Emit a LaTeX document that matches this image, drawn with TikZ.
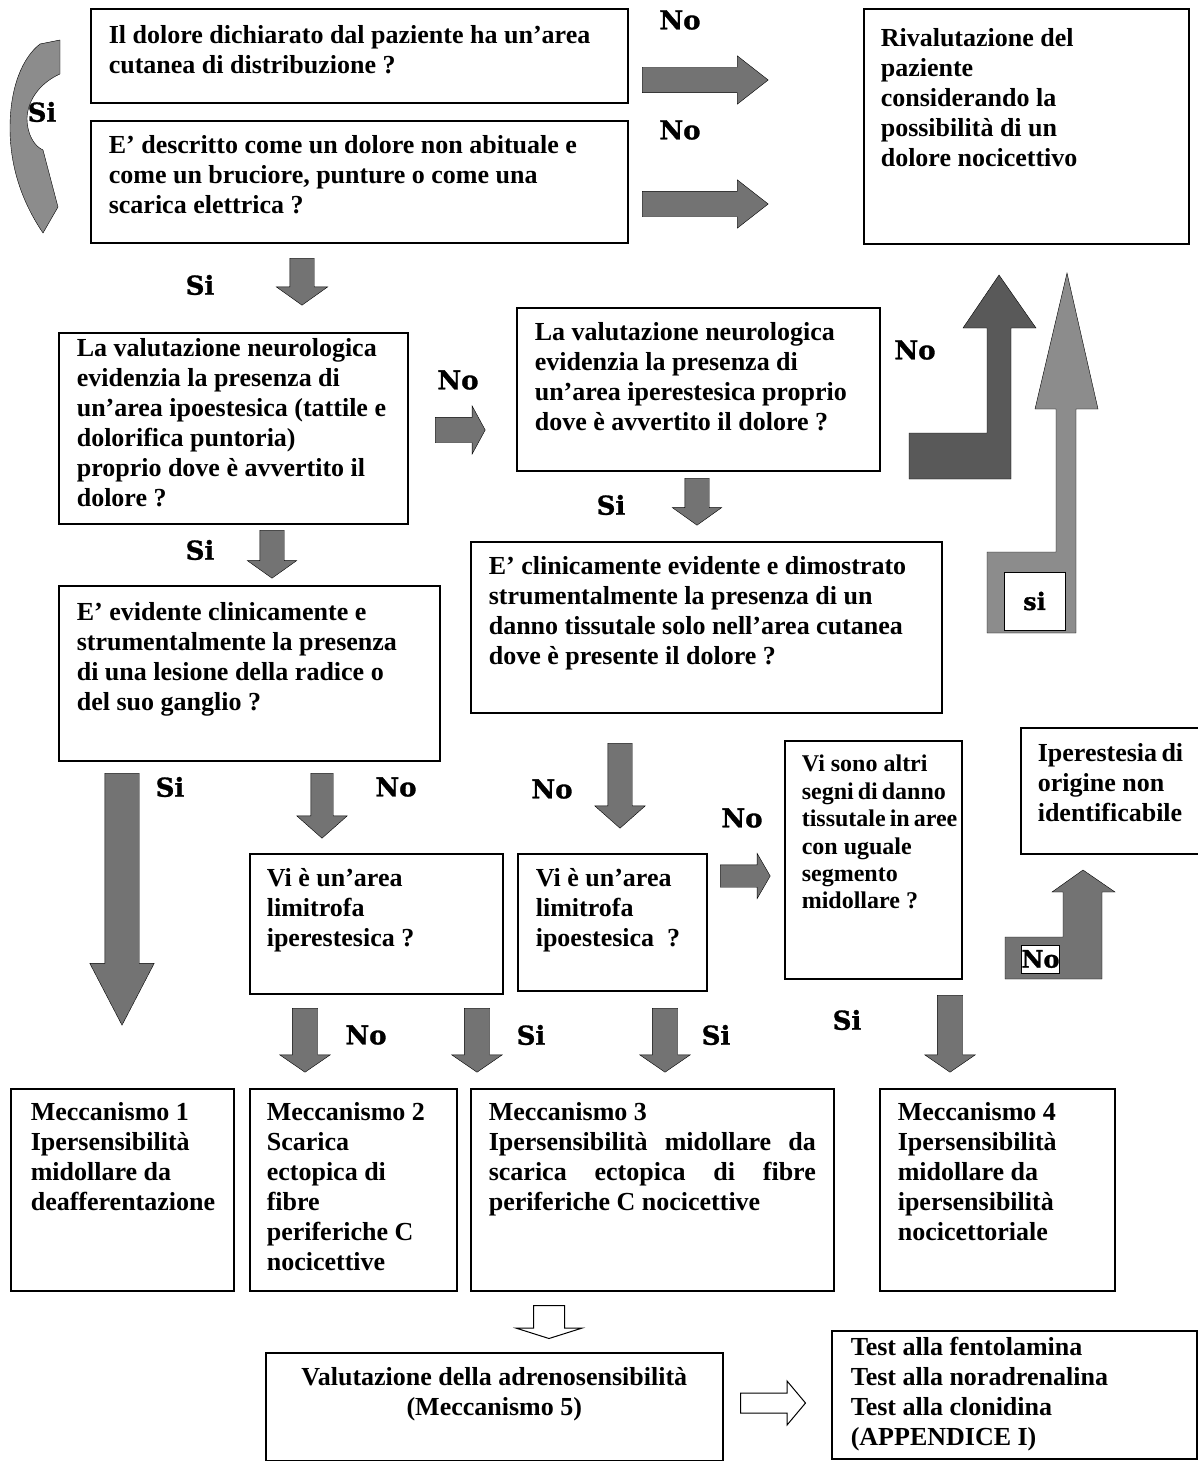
\documentclass[tikz,border=0pt]{standalone}
\usepackage{fontspec}
\setmainfont{Liberation Serif}
\newfontfamily\labelfont{DejaVu Serif Bold}[FakeBold=1.2]
\usetikzlibrary{shapes.arrows}

% box text: top aligned, fixed size
\newcommand{\qtext}[4][12pt]{\parbox[c][#3][t]{#2}{\vspace*{#1}\raggedright
  \hyphenpenalty=10000 \hfuzz=20pt \strut #4}}

\begin{document}
\begin{tikzpicture}[
  x=1pt, y=-1pt,
  quest/.style={draw, line width=1.6pt, anchor=north west, inner xsep=18pt,
    inner ysep=0pt, font=\bfseries\fontsize{26}{30}\selectfont},
  answer/.style={font=\labelfont\fontsize{26}{30}\selectfont, inner sep=1pt},
  smallanswer/.style={font=\labelfont\fontsize{24}{26}\selectfont, fill=white,
    draw, line width=0.5pt, inner sep=0pt},
  blk/.style={single arrow, draw=black, line width=0.4pt, fill=black!55,
    inner sep=0pt, anchor=tail},
  blkdown/.style={blk, shape border rotate=270},
  hollow/.style={single arrow, draw=black, line width=1pt, fill=white,
    inner sep=0pt, anchor=tail},
  shapefill/.style={draw=black, line width=0.4pt, fill=#1}
]
\useasboundingbox (0,0) rectangle (1198,1461);

% first two questions
\node[quest] (area) at (90,8) {\qtext[14pt]{501pt}{94pt}{Il dolore dichiarato dal paziente ha un'area\\cutanea di distribuzione ?}};
\node[quest] (bruciore) at (90,120) {\qtext{501pt}{122pt}{E' descritto come un dolore non abituale e\\come un bruciore, punture o come una\\scarica elettrica ?}};
\node[quest, inner xsep=17pt] (rival) at (863,8) {\qtext[17pt]{291pt}{235pt}{Rivalutazione del\\paziente\\considerando la\\possibilità di un\\dolore nocicettivo}};

% neurological evaluation
\node[quest] (ipoest) at (58,332) {\qtext[3pt]{313pt}{191pt}{La valutazione neurologica\\evidenzia la presenza di\\un'area~ipoestesica~(tattile~e\\dolorifica puntoria)\\proprio dove è avvertito il\\dolore ?}};
\node[quest] (iperest) at (516,307) {\qtext{327pt}{163pt}{La valutazione neurologica\\evidenzia la presenza di\\un'area iperestesica proprio\\dove è avvertito il dolore ?}};
\node[quest] (danno) at (470,541) {\qtext{435pt}{171pt}{E' clinicamente evidente e dimostrato\\strumentalmente la presenza di un\\danno tissutale solo nell'area cutanea\\dove è presente il dolore ?}};
\node[quest] (radice) at (58,585) {\qtext[14pt]{345pt}{175pt}{E' evidente clinicamente e\\strumentalmente la presenza\\di una lesione della radice o\\del suo ganglio ?}};

% neighbouring areas
\node[quest, inner xsep=17pt] (limiper) at (249,853) {\qtext{219pt}{140pt}{Vi è un'area\\limitrofa\\iperestesica ?}};
\node[quest] (limipo) at (517,853) {\qtext{153pt}{137pt}{Vi è un'area\\limitrofa\\ipoestesica~~?}};
\node[quest, inner xsep=17pt, font=\bfseries\fontsize{24}{27.4}\selectfont] (segni) at (784,740) {\qtext{143pt}{238pt}{Vi~sono~altri\\segni~di~danno\\tissutale~in~aree\\con uguale\\segmento\\midollare ?}};
\node[quest, inner xsep=17pt] (ignota) at (1020,727) {\qtext[13pt]{144pt}{126pt}{Iperestesia~di\\origine non\\identificabile}};

% mechanisms
\node[quest, inner xsep=20pt] (mecc1) at (10,1088) {\qtext[11pt]{183pt}{202pt}{Meccanismo 1\\Ipersensibilità\\midollare da\\deafferentazione}};
\node[quest, inner xsep=17pt] (mecc2) at (249,1088) {\qtext[11pt]{173pt}{202pt}{Meccanismo 2\\Scarica\\ectopica di\\fibre\\periferiche C\\nocicettive}};
\node[quest] (mecc3) at (470,1088) {\qtext[11pt]{327pt}{202pt}{\rightskip=0pt Meccanismo 3\\Ipersensibilità midollare da\linebreak scarica ectopica di fibre\linebreak periferiche C nocicettive}};
\node[quest] (mecc4) at (879,1088) {\qtext[11pt]{199pt}{202pt}{Meccanismo 4\\Ipersensibilità\\midollare da\\ipersensibilità\\nocicettoriale}};

% adrenosensitivity
\node[quest] (adreno) at (265,1352) {\qtext{421pt}{108pt}{\centering Valutazione della adrenosensibilità\\(Meccanismo 5)}};
\node[quest, inner xsep=19pt] (test) at (831,1330) {\qtext[4pt]{327pt}{128pt}{Test alla fentolamina\\Test alla noradrenalina\\Test alla clonidina\\(APPENDICE I)}};

% block arrows
\node[blk, minimum height=126pt, inner ysep=12.5pt, single arrow head extend=11.5pt, single arrow tip angle=76] (noarea) at (642,80) {};
\node[blk, minimum height=126pt, inner ysep=12.5pt, single arrow head extend=11.5pt, single arrow tip angle=76] (nobruc) at (642,204) {};
\node[blkdown, minimum height=47pt, inner xsep=12pt, single arrow head extend=13.5pt, single arrow tip angle=109] (sibruc) at (302,258) {};
\node[blk, minimum height=50pt, inner ysep=12.5pt, single arrow head extend=11.5pt, single arrow tip angle=123] (noipo) at (435,430) {};
\node[blkdown, minimum height=48pt, inner xsep=12pt, single arrow head extend=12.5pt, single arrow tip angle=109] (siipo) at (272,530) {};
\node[blkdown, minimum height=47pt, inner xsep=12pt, single arrow head extend=12.5pt, single arrow tip angle=109] (siiper) at (697,478) {};
\node[blkdown, minimum height=252pt, inner xsep=17pt, single arrow head extend=15pt, single arrow tip angle=55] (siradice) at (122,773) {};
\node[blkdown, minimum height=65pt, inner xsep=11pt, single arrow head extend=14pt, single arrow tip angle=97] (noradice) at (322,773) {};
\node[blkdown, minimum height=85pt, inner xsep=12pt, single arrow head extend=13pt, single arrow tip angle=97] (nodanno) at (620,743) {};
\node[blk, minimum height=50pt, inner ysep=11pt, single arrow head extend=11.5pt, single arrow tip angle=120] (nolimipo) at (720,876) {};
\node[blkdown, minimum height=64pt, inner xsep=12.5pt, single arrow head extend=12.5pt, single arrow tip angle=111] (nolimiper) at (305,1008) {};
\node[blkdown, minimum height=64pt, inner xsep=12.5pt, single arrow head extend=12.5pt, single arrow tip angle=111] (silimiper) at (477,1008) {};
\node[blkdown, minimum height=64pt, inner xsep=12.5pt, single arrow head extend=12.5pt, single arrow tip angle=111] (silimipo) at (665,1008) {};
\node[blkdown, minimum height=77pt, inner xsep=12.5pt, single arrow head extend=12.5pt, single arrow tip angle=111] (sisegni) at (950,995) {};
\node[hollow, shape border rotate=270, minimum height=33pt, inner xsep=15pt, single arrow head extend=17.5pt, single arrow tip angle=145] (toadreno) at (549,1305) {};
\node[hollow, minimum height=65pt, inner ysep=9.5pt, single arrow head extend=12pt, single arrow tip angle=100] (totest) at (740,1403) {};

% curved Si arrow
\filldraw[shapefill=black!45] (40,44) -- (60,40) -- (60,74) .. controls (42,82) and (28,98) .. (27,118)
  .. controls (27,134) and (34,146) .. (43,150) -- (58,207) -- (43,233)
  .. controls (24,205) and (10,170) .. (10,128) .. controls (10,88) and (22,58) .. (40,44) -- cycle;
% bent arrows on the right
\filldraw[shapefill=black!65] (909,433) -- (987,433) -- (987,328) -- (963,328) -- (999,275)
  -- (1036,328) -- (1011,328) -- (1011,479) -- (909,479) -- cycle;
\filldraw[shapefill=black!45] (1067,273) -- (1098,409) -- (1076,409) -- (1076,633) -- (987,633)
  -- (987,552) -- (1056,552) -- (1056,409) -- (1035,409) -- cycle;
\filldraw[shapefill=black!55] (1083,870) -- (1115,892) -- (1102,892) -- (1102,979) -- (1005,979)
  -- (1005,937) -- (1063,937) -- (1063,892) -- (1052,892) -- cycle;
\node[smallanswer, minimum width=61pt, minimum height=58pt] (sibox) at (1034.5,601) {si};
\node[smallanswer, minimum width=37pt, minimum height=28pt] (nobox) at (1040.5,959) {No};

% answers
\node[answer] (na) at (680,20) {No};
\node[answer] (nb) at (680,130) {No};
\node[answer] (sa) at (42,112) {Si};
\node[answer] (sb) at (200,285) {Si};
\node[answer] (nc) at (458,380) {No};
\node[answer] (nd) at (915,350) {No};
\node[answer] (sd) at (611,505) {Si};
\node[answer] (sc) at (200,550) {Si};
\node[answer] (sf) at (170,787) {Si};
\node[answer] (nf) at (396,787) {No};
\node[answer] (ne) at (552,789) {No};
\node[answer] (nh) at (742,818) {No};
\node[answer] (ng) at (366,1035) {No};
\node[answer] (sg) at (531,1035) {Si};
\node[answer] (sh) at (716,1035) {Si};
\node[answer] (si) at (847,1020) {Si};
\end{tikzpicture}
\end{document}
